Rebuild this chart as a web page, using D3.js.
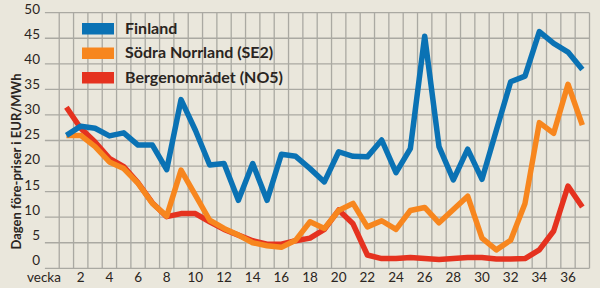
<html>
<head>
<meta charset="utf-8">
<script type="text/javascript" src="https://cdn.jsdelivr.net/npm/d3@7/dist/d3.min.js"></script>
<style>
    body { margin: 0; background: #eae7dc; }
    text { font-family: Lato, "Open Sans", sans-serif; fill: #2a2521; }
    line.grid { stroke: #aaa9a2; stroke-width: 1.3; }
    path.serie { fill: none; stroke-width: 5.5; stroke-linejoin: round; stroke-linecap: butt; }
</style>
</head>
<body>
<script>
// data: spot prices per week, EUR/MWh
var weeks = d3.range(1, 38);
var finland = [26.0, 27.8, 27.4, 25.9, 26.5, 24.1, 24.1, 19.3, 33.0, 27.0, 20.2, 20.5, 13.3, 20.5, 13.3, 22.3, 21.9, 19.5, 16.9, 22.8, 21.9, 21.8, 25.1, 18.7, 23.4, 45.4, 23.8, 17.3, 23.3, 17.4, 27.0, 36.5, 37.6, 46.3, 44.0, 42.3, 38.9];
var sodraNorrland = [26.0, 26.0, 23.8, 20.8, 19.5, 16.6, 12.7, 10.2, 19.2, 14.3, 9.4, 7.8, 6.5, 5.0, 4.4, 4.1, 5.5, 9.1, 7.8, 11.3, 12.7, 8.1, 9.3, 7.6, 11.3, 11.9, 8.9, 11.5, 14.1, 5.9, 3.6, 5.5, 12.7, 28.5, 26.4, 36.0, 28.0];
var bergen = [31.5, 27.4, 24.7, 21.5, 19.9, 16.7, 12.8, 10.1, 10.7, 10.7, 9.1, 7.6, 6.5, 5.4, 4.7, 4.7, 5.4, 5.9, 7.6, 11.4, 8.7, 2.6, 1.9, 1.9, 2.1, 1.9, 1.7, 1.9, 2.1, 2.1, 1.8, 1.8, 1.9, 3.6, 7.3, 16.1, 12.0];

var seriesNames = ["Finland", "Södra Norrland (SE2)", "Bergenområdet (NO5)"];
var seriesColors = ["#0a72b4", "#f7861e", "#e5321f"];
var yTicks = d3.range(0, 51, 5);
var xTicks = d3.range(2, 37, 2);

var width = 600, height = 288;

var svg = d3.select("body").append("svg")
    .attr("width", width)
    .attr("height", height);

var x = d3.scaleLinear().domain([-0.5, 37.5]).range([44.9, 589.5]);
var y = d3.scaleLinear().domain([0, 50]).range([268.3, 12.7]);
// the tick labels are spaced a little tighter than the grid lines
var yLabel = d3.scaleLinear().domain([0, 50]).range([264.6, 14.3]);

// grid
svg.append("g").selectAll("line")
    .data(yTicks)
    .enter().append("line")
        .attr("class", "grid")
        .attr("x1", x(-0.5))
        .attr("x2", x(37.5))
        .attr("y1", function(d) { return y(d); })
        .attr("y2", function(d) { return y(d); });

svg.append("g").selectAll("line")
    .data(d3.range(0.5, 38, 1))
    .enter().append("line")
        .attr("class", "grid")
        .attr("x1", function(d) { return x(d); })
        .attr("x2", function(d) { return x(d); })
        .attr("y1", y(0))
        .attr("y2", y(50));

// y axis labels
svg.append("g").selectAll("text")
    .data(yTicks)
    .enter().append("text")
        .attr("x", 40)
        .attr("y", function(d) { return yLabel(d); })
        .attr("text-anchor", "end")
        .style("font-size", "13.5px")
        .text(function(d) { return d; });

// x axis labels
svg.append("g").selectAll("text")
    .data(xTicks)
    .enter().append("text")
        .attr("x", function(d) { return x(d); })
        .attr("y", 282)
        .attr("text-anchor", "middle")
        .style("font-size", "13.5px")
        .text(function(d) { return d; });

svg.append("text")
    .attr("x", 27)
    .attr("y", 282)
    .style("font-size", "13.5px")
    .text("vecka");

// y title
svg.append("text")
    .attr("transform", "translate(21,161.5) rotate(-90)")
    .attr("text-anchor", "middle")
    .style("font-size", "13px")
    .style("font-weight", "bold")
    .text("Dagen före-priser i EUR/MWh");

// lines
var line = d3.line()
    .x(function(d, i) { return x(weeks[i]); })
    .y(function(d) { return y(d); });

var allSeries = [finland, sodraNorrland, bergen];
// draw bottom series first
for (i = allSeries.length - 1; i >= 0; i--)
{
    svg.append("path")
        .attr("class", "serie")
        .attr("d", line(allSeries[i]))
        .style("stroke", seriesColors[i]);
}

// legend
var legend = svg.append("g").selectAll("g")
    .data(seriesNames)
    .enter().append("g")
        .attr("transform", function(d, i) { return "translate(82," + (23 + i * 24.5) + ")"; });

legend.append("rect")
    .attr("width", 32)
    .attr("height", 11.5)
    .style("fill", function(d, i) { return seriesColors[i]; });

legend.append("text")
    .attr("x", 43)
    .attr("y", 10.5)
    .style("font-size", "16px")
    .style("font-weight", "bold")
    .text(function(d) { return d; });
</script>
</body>
</html>
